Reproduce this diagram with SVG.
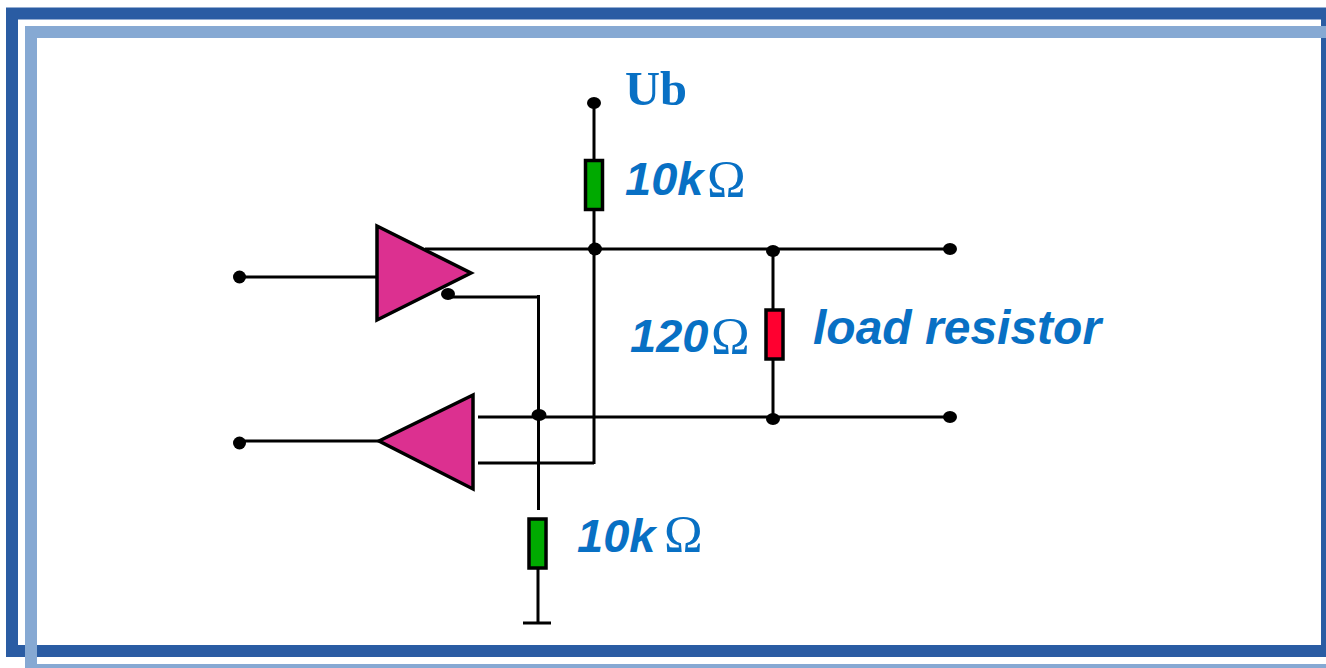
<svg xmlns="http://www.w3.org/2000/svg" width="1326" height="668" viewBox="0 0 1326 668">
<style>
.w{stroke:#000;stroke-width:3;fill:none}
.d{fill:#000;stroke:none}
.tri{fill:#dc3090;stroke:#000;stroke-width:3.5;stroke-linejoin:miter}
.res{stroke:#000;stroke-width:3.5}
.sans{font-family:"Liberation Sans",Arial,sans-serif;font-weight:700;font-style:italic;fill:#0870c4;font-size:47px}
.ser{font-family:"Liberation Serif","Times New Roman",serif;fill:#0870c4;font-size:52px}
.ub{font-family:"Liberation Serif","Times New Roman",serif;fill:#0870c4;font-size:48.500px;font-weight:700}
</style>
<rect width="1326" height="668" fill="#fff"/>
<g id="frame">
<path d="M1326 13.500H12V651H1326" fill="none" stroke="#2a5ca3" stroke-width="12"/>
<rect x="1321" y="8" width="5" height="649" fill="#2a5ca3"/>
<path d="M1326 32H31V668" fill="none" stroke="#86a9d3" stroke-width="12"/>
<rect x="25" y="664" width="1301" height="4" fill="#86a9d3"/>
</g>
<g id="connectors">
<path class="w" d="M594 103V160M594 210V464M425 249H950M478 417H950M478 463H594"/>
<path class="w" d="M448 297H539M538.500 295V510M538 568V622M523 623H551"/>
<path class="w" d="M773 250V309M773 359V419M240 277H378M240 441H380"/>
<circle class="d" cx="239.500" cy="277" r="6.500"/>
<circle class="d" cx="239.500" cy="443" r="6.500"/>
<ellipse class="d" cx="594" cy="103" rx="7" ry="6"/>
<ellipse class="d" cx="595" cy="249" rx="7" ry="6.500"/>
<ellipse class="d" cx="773" cy="251" rx="7" ry="6"/>
<ellipse class="d" cx="950" cy="249" rx="7" ry="6"/>
<ellipse class="d" cx="773" cy="419" rx="7" ry="6"/>
<ellipse class="d" cx="950" cy="417" rx="7" ry="6"/>
<ellipse class="d" cx="539" cy="415" rx="7.500" ry="6"/>
</g>
<g id="driver"><polygon class="tri" points="377,226 471,273 377,320"/></g>
<g id="receiver"><polygon class="tri" points="379,441 473,395 473,489"/></g>
<g id="driver-enable"><ellipse class="d" cx="448" cy="294" rx="7" ry="6"/></g>
<g id="r-pullup">
<rect class="res" x="585.500" y="160.500" width="17" height="49" fill="#00aa00"/>
<text class="sans" x="625" y="195">10k</text>
<text class="ser" x="707" y="197">Ω</text>
</g>
<g id="r-load">
<rect class="res" x="766" y="310" width="17" height="49" fill="#ff0030"/>
<text class="sans" x="630" y="352">120</text>
<text class="ser" x="711" y="354">Ω</text>
<text class="sans" x="813" y="344" style="font-size:48px">load resistor</text>
</g>
<g id="r-pulldown">
<rect class="res" x="529" y="519" width="17" height="49" fill="#00aa00"/>
<text class="sans" x="577" y="552">10k</text>
<text class="ser" x="664" y="552">Ω</text>
</g>
<g id="ub"><text class="ub" x="625" y="105">Ub</text></g>
</svg>
